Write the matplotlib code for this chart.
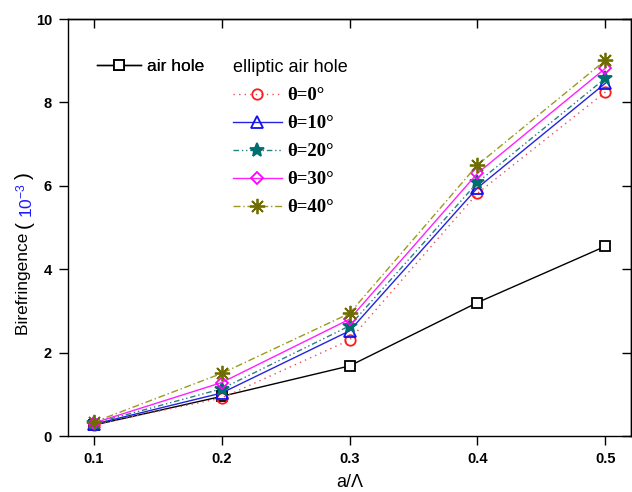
import matplotlib
matplotlib.use("Agg")
import matplotlib.pyplot as plt
from matplotlib.legend import Legend

# data
ratio = [0.1, 0.2, 0.3, 0.4, 0.5]
air_hole = [0.26, 0.95, 1.68, 3.20, 4.55]
theta_labels = ["θ=0°", "θ=10°", "θ=20°", "θ=30°", "θ=40°"]
theta_0 = [0.27, 0.91, 2.30, 5.82, 8.25]
theta_10 = [0.28, 1.03, 2.52, 5.95, 8.46]
theta_20 = [0.30, 1.13, 2.64, 6.08, 8.58]
theta_30 = [0.31, 1.28, 2.80, 6.30, 8.82]
theta_40 = [0.33, 1.50, 2.94, 6.50, 9.01]
x_ticks = [0.1, 0.2, 0.3, 0.4, 0.5]
y_ticks = [0, 2, 4, 6, 8, 10]

W, H = 632, 492
fig = plt.figure(figsize=(W / 100, H / 100), dpi=100)
ax = fig.add_axes([68 / W, (H - 436) / H, (631 - 68) / W, (436 - 19) / H])

ax.plot(ratio, air_hole, color="black", lw=1.0, marker="s", ms=6.5,
        mfc="white", mec="black", mew=1.3, label="air hole", zorder=3)

styles = [
    dict(color="#e8505a", ls=(0, (1, 3)), marker="o", mfc="none", mec="#ff1a1a", ms=7.5),
    dict(color="#2424e0", ls="-", marker="^", mfc="none", mec="#1010f0", ms=8),
    dict(color="#2a8080", ls=(0, (4, 2, 1, 2, 1, 2)), marker="*", mfc="#006e6e", mec="#006e6e", ms=10),
    dict(color="#ff20ff", ls="-", marker="D", mfc="none", mec="#ff00ff", ms=6.5),
    dict(color="#9a9a20", ls=(0, (5, 2, 1, 2)), marker=(8, 2, 0), mfc="none", mec="#6e6e00", ms=11),
]
series = [theta_0, theta_10, theta_20, theta_30, theta_40]
theta_lines = []
for vals, lab, st in zip(series, theta_labels, styles):
    ln, = ax.plot(ratio, vals, lw=1.0, mew=1.3, label=lab, zorder=4, **st)
    theta_lines.append(ln)

ax.set_xlim(0.08, 0.52)
ax.set_ylim(0, 10)
ax.set_xticks(x_ticks)
ax.set_xticklabels([f"{v:.1f}" for v in x_ticks])
ax.set_yticks(y_ticks)
ax.set_yticklabels([str(v) for v in y_ticks])

for side in ax.spines.values():
    side.set_linewidth(1.0)
ax.tick_params(axis="both", which="major", length=6.5, width=1.0,
               labelsize=10.5, pad=5, direction="out", top=False, right=False)
# inward ticks on the mirrored top/right sides
sec_x = ax.secondary_xaxis("top")
sec_x.set_xticks(x_ticks)
sec_x.tick_params(direction="in", length=6.5, width=1.0, labeltop=False)
sec_x.spines["top"].set_linewidth(1.0)
sec_y = ax.secondary_yaxis("right")
sec_y.set_yticks(y_ticks)
sec_y.tick_params(direction="in", length=6.5, width=1.0, labelright=False)
sec_y.spines["right"].set_linewidth(1.0)

for lbl in ax.get_xticklabels() + ax.get_yticklabels():
    lbl.set_fontweight("bold")
    lbl.set_family("Liberation Sans")

ax.set_xlabel("a/Λ", fontsize=13, family="Liberation Sans", labelpad=6)

# legends
leg1 = ax.legend(handles=ax.lines[:1], labels=["air hole"], loc="upper left",
                 bbox_to_anchor=(0.024, 0.942), frameon=False,
                 handlelength=2.5, handletextpad=0.35,
                 prop=dict(family="Liberation Sans", size=12.5))
ax.add_artist(leg1)
leg2 = Legend(ax, theta_lines, theta_labels, loc="upper left",
              bbox_to_anchor=(0.263, 0.944), frameon=False,
              handlelength=2.6, handletextpad=0.3, labelspacing=0.58,
              title="elliptic air hole", alignment="left",
              title_fontproperties=dict(family="Liberation Sans", size=13),
              prop=dict(family="Liberation Serif", size=13.5, weight="bold"))
ax.add_artist(leg2)

# y label assembled from black and blue pieces
fig.canvas.draw()
r = fig.canvas.get_renderer()
xl = 24 / W
t1 = fig.text(xl, (H - 335) / H, "Birefringence ", rotation=90, ha="center",
              va="bottom", fontsize=12.5, family="Liberation Sans")
bb = t1.get_window_extent(r)
t_open = fig.text(xl, bb.y1 / H, "(", rotation=90, ha="center", va="bottom",
                  fontsize=15, family="Liberation Sans")
bb = t_open.get_window_extent(r)
t2 = fig.text(xl + 1 / W, (bb.y1 + 3) / H, r"10$^{\mathregular{-3}}$", rotation=90,
              ha="center", va="bottom", fontsize=12.5, family="Liberation Sans",
              color="#1a1aff")
bb = t2.get_window_extent(r)
fig.text(xl, (bb.y1 + 4) / H, ")", rotation=90, ha="center", va="bottom",
         fontsize=15, family="Liberation Sans")

fig.savefig("out.png", dpi=100)
